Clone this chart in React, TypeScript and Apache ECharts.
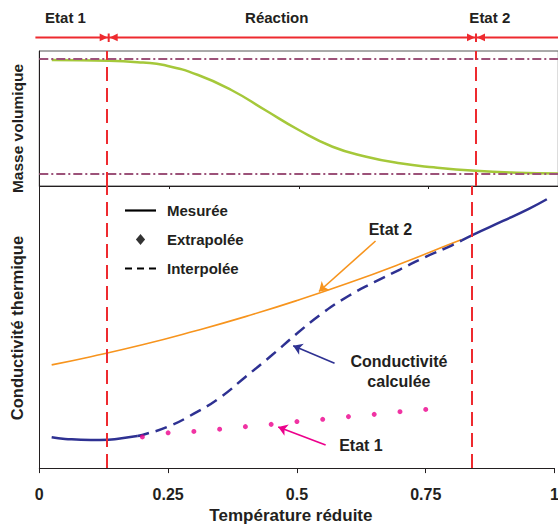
import React, { useEffect, useRef } from "react";
import * as echarts from "echarts";

// ---------- data (reduced temperature t, values in relative units 0–100) ----------
const xTicks = [0, 0.25, 0.5, 0.75, 1];
const phaseBounds = [0.1337, 0.8414];
const phaseLabels = ["Etat 1", "Réaction", "Etat 2"];
const phaseLabelT = [0.0505, 0.4575, 0.868];

// Masse volumique (upper panel)
const densityT = [0.024, 0.134, 0.2, 0.24, 0.306, 0.37, 0.435, 0.5, 0.565, 0.63, 0.695, 0.76, 0.84, 0.92, 1.0];
const densityV = [93.3, 92.8, 91.4, 89.6, 82.2, 71.1, 56.3, 41.5, 29.1, 21.7, 16.8, 13.85, 11.3, 9.85, 9.3];
const densityLevels = [94.1, 9.1];

// Conductivité calculée: measured (low T), interpolated, measured (high T)
const measuredLowT = [0.024, 0.05, 0.1, 0.134, 0.15, 0.19];
const measuredLowV = [10.9, 10.35, 9.95, 10.07, 10.35, 11.4];
const interpolatedT = [0.19, 0.2, 0.25, 0.3, 0.35, 0.4, 0.45, 0.5, 0.55, 0.6, 0.65, 0.7, 0.75, 0.8, 0.82];
const interpolatedV = [11.4, 11.75, 14.7, 19.3, 24.9, 32.3, 39.8, 47.7, 55.0, 61.0, 65.9, 70.4, 74.9, 78.9, 80.7];
const measuredHighT = [0.82, 0.8414, 0.9, 0.95, 0.985];
const measuredHighV = [80.7, 82.7, 87.6, 91.9, 95.3];

// Etat 2 conductivity (orange)
const etat2T = [0.024, 0.1, 0.2, 0.3, 0.4, 0.5, 0.6, 0.7, 0.8, 0.82];
const etat2V = [36.6, 39.5, 43.7, 48.5, 53.7, 59.4, 65.6, 72.35, 79.6, 81.05];

// Etat 1 extrapolated (magenta dots)
const etat1T = [0.2, 0.25, 0.3, 0.35, 0.4, 0.45, 0.5, 0.55, 0.6, 0.65, 0.7, 0.75];
const etat1V = [11.05, 12.5, 13.0, 13.8, 14.7, 15.5, 16.5, 17.3, 18.25, 19.05, 20.0, 20.8];

// annotations [t, v]
const noteEtat2 = { text: "Etat 2", at: [0.6815, 84.7] };
const noteCond = { text: "Conductivité\ncalculée", at: [0.698, 34.4] };
const noteEtat1 = { text: "Etat 1", at: [0.6243, 8.07] };
const arrowEtat2 = [[0.6526, 80.5], [0.5428, 62.6]];
const arrowCond = [[0.573, 37.2], [0.4927, 43.4]];
const arrowEtat1 = [[0.5557, 8.18], [0.4637, 14.6]];

const FONT = "'Liberation Sans', Arial, Helvetica, sans-serif";
const TEXT = "#231F20";
const RED = "#EE2A2F";
const BLUE = "#2E3192";
const ORANGE = "#F7941D";
const PINK = "#EC008C";
const GREEN = "#A5C83A";
const MAUVE = "#9C5279";

const zip = (a: number[], b: number[]) => a.map((t, i) => [t, b[i]]);

const arrowLine = (pts: number[][], color: string) => ({
  silent: true,
  symbol: ["none", "arrow"],
  symbolSize: 9,
  label: { show: false },
  lineStyle: { color, width: 1.6, type: "solid" },
  data: [[{ coord: pts[0] }, { coord: pts[1] }]],
});

export default function App() {
  const ref = useRef<HTMLDivElement>(null);

  useEffect(() => {
    document.body.style.margin = "0";
    document.body.style.overflow = "hidden";
    const chart = echarts.init(ref.current!, undefined, { renderer: "svg" });

    const axisColor = "#231F20";
    const option: any = {
      animation: false,
      textStyle: { fontFamily: FONT },
      grid: [
        { left: 39.3, top: 51, width: 519, height: 135, show: true, borderColor: "#555", borderWidth: 1 },
        { left: 39.3, top: 186, width: 519, height: 285 },
      ],
      xAxis: [
        {
          gridIndex: 0, type: "value", min: 0, max: 1, interval: 0.25,
          axisLabel: { show: false },
          axisTick: { show: true, length: 3, lineStyle: { color: axisColor } },
          axisLine: { show: true, lineStyle: { color: axisColor, width: 1 } },
          splitLine: { show: false },
        },
        {
          gridIndex: 1, type: "value", min: 0, max: 1, interval: 0.25,
          axisLabel: {
            fontSize: 16, fontWeight: "bold", color: TEXT, margin: 18, fontFamily: FONT,
            formatter: (v: number) => { const t = xTicks.find((x) => Math.abs(x - v) < 1e-9); return t === undefined ? "" : String(t); },
          },
          axisTick: { show: true, length: 5, lineStyle: { color: axisColor } },
          axisLine: { show: true, lineStyle: { color: axisColor, width: 1 } },
          splitLine: { show: false },
          name: "Température réduite", nameLocation: "middle", nameGap: 36,
          nameTextStyle: { fontSize: 17, fontWeight: "bold", color: TEXT, fontFamily: FONT, padding: [0, 12, 0, 0] },
        },
      ],
      yAxis: [
        {
          gridIndex: 0, type: "value", min: 0, max: 100,
          axisLabel: { show: false }, axisTick: { show: false }, splitLine: { show: false },
          axisLine: { show: true, lineStyle: { color: axisColor, width: 1 } },
          name: "Masse volumique", nameLocation: "middle", nameGap: 14, nameRotate: 90,
          nameTextStyle: { fontSize: 15.5, fontWeight: "bold", color: TEXT, fontFamily: FONT, padding: [0, 20, 0, 0] },
        },
        {
          gridIndex: 1, type: "value", min: 0, max: 100,
          axisLabel: { show: false }, axisTick: { show: false }, splitLine: { show: false },
          axisLine: { show: true, lineStyle: { color: axisColor, width: 1 } },
          name: "Conductivité thermique", nameLocation: "middle", nameGap: 14, nameRotate: 90,
          nameTextStyle: { fontSize: 16.5, fontWeight: "bold", color: TEXT, fontFamily: FONT, padding: [0, 2, 0, 0] },
        },
      ],
      legend: {
        orient: "vertical", left: 120, top: 198, itemWidth: 31, itemHeight: 11, itemGap: 14,
        selectedMode: false,
        data: [
          { name: "Mesurée", icon: "path://M0,0H31V2.2H0Z", itemStyle: { color: "#000" } },
          { name: "Extrapolée", icon: "path://M5,0L10,6L5,12L0,6Z", itemStyle: { color: "#000" } },
          { name: "Interpolée", icon: "path://M0,0H7V2.2H0Z M12,0H19V2.2H12Z M24,0H31V2.2H24Z", itemStyle: { color: "#000" } },
        ],
        textStyle: { fontSize: 15, fontWeight: "bold", color: TEXT, fontFamily: FONT, padding: [0, 0, 0, 6] },
      },
      series: [
        {
          name: "Masse volumique", type: "line", xAxisIndex: 0, yAxisIndex: 0,
          data: zip(densityT, densityV), smooth: true, symbol: "none", z: 3,
          lineStyle: { color: GREEN, width: 2.5 },
          markLine: {
            silent: true, symbol: "none", label: { show: false },
            lineStyle: { color: MAUVE, width: 2, type: [9, 3, 2, 3] },
            data: densityLevels.map((v) => ({ yAxis: v })),
          },
        },
        {
          name: "bornes-haut", type: "line", xAxisIndex: 0, yAxisIndex: 0,
          data: zip(densityT, densityV), symbol: "none", lineStyle: { opacity: 0 }, z: 4,
          markLine: {
            silent: true, symbol: "none", label: { show: false },
            lineStyle: { color: RED, width: 2, type: [14, 7] },
            data: phaseBounds.map((t) => ({ xAxis: t })),
          },
        },
        {
          name: "Etat 2", type: "line", xAxisIndex: 1, yAxisIndex: 1,
          data: zip(etat2T, etat2V), smooth: true, symbol: "none", z: 2,
          lineStyle: { color: ORANGE, width: 1.6 },
          markLine: arrowLine(arrowEtat2, ORANGE),
        },
        {
          name: "Interpolée (calc.)", type: "line", xAxisIndex: 1, yAxisIndex: 1,
          data: zip(interpolatedT, interpolatedV), smooth: 0.5, symbol: "none", z: 3,
          lineStyle: { color: BLUE, width: 2.5, type: [12, 7] },
          markLine: arrowLine(arrowCond, BLUE),
        },
        {
          name: "Mesurée basse", type: "line", xAxisIndex: 1, yAxisIndex: 1,
          data: zip(measuredLowT, measuredLowV), smooth: true, symbol: "none", z: 3,
          lineStyle: { color: BLUE, width: 2.5 },
        },
        {
          name: "Mesurée haute", type: "line", xAxisIndex: 1, yAxisIndex: 1,
          data: zip(measuredHighT, measuredHighV), smooth: true, symbol: "none", z: 3,
          lineStyle: { color: BLUE, width: 2.5 },
        },
        {
          name: "Etat 1", type: "scatter", xAxisIndex: 1, yAxisIndex: 1,
          data: zip(etat1T, etat1V), symbol: "circle", symbolSize: 5, z: 3,
          itemStyle: { color: PINK },
          markLine: arrowLine(arrowEtat1, PINK),
        },
        {
          name: "bornes-bas", type: "line", xAxisIndex: 1, yAxisIndex: 1,
          data: zip(etat1T, etat1V), symbol: "none", lineStyle: { opacity: 0 }, z: 5,
          markLine: {
            silent: true, symbol: "none", label: { show: false },
            lineStyle: { color: RED, width: 2, type: [14, 7] },
            data: phaseBounds.map((t) => ({ xAxis: t })),
          },
        },
        // legend-only series
        { name: "Mesurée", type: "line", xAxisIndex: 1, yAxisIndex: 1, data: [], symbol: "none", lineStyle: { color: "#000", width: 2 }, itemStyle: { color: "#000" } },
        { name: "Extrapolée", type: "scatter", xAxisIndex: 1, yAxisIndex: 1, data: [], symbol: "diamond", itemStyle: { color: "#000" } },
        { name: "Interpolée", type: "line", xAxisIndex: 1, yAxisIndex: 1, data: [], symbol: "none", lineStyle: { color: "#000", width: 2, type: [7, 5] }, itemStyle: { color: "#000" } },
      ],
    };
    chart.setOption(option);

    // ---- graphics positioned through the chart's own scales ----
    const x0 = (chart.convertToPixel({ gridIndex: 0 }, [0, 50]) as number[])[0];
    const x1 = (chart.convertToPixel({ gridIndex: 0 }, [1, 50]) as number[])[0];
    const xPix = (t: number) => x0 + t * (x1 - x0);
    const bx = phaseBounds.map(xPix);
    const barY = 37.4;
    const barStart = 35.4;
    const barEnd = 558;
    const lineStyle = { stroke: RED, lineWidth: 2 };
    const g: any[] = [];
    const segs = [[barStart, bx[0]], [bx[0], bx[1]], [bx[1], barEnd]];
    segs.forEach(([a, b]) => g.push({ type: "line", shape: { x1: a, y1: barY, x2: b, y2: barY }, style: lineStyle, silent: true }));
    bx.forEach((b) => {
      g.push({ type: "line", shape: { x1: b, y1: 33.5, x2: b, y2: 42 }, style: lineStyle, silent: true });
      g.push({ type: "polygon", shape: { points: [[b - 1, barY], [b - 9, barY - 3.8], [b - 9, barY + 3.8]] }, style: { fill: RED }, silent: true });
      g.push({ type: "polygon", shape: { points: [[b + 1, barY], [b + 9, barY - 3.8], [b + 9, barY + 3.8]] }, style: { fill: RED }, silent: true });
    });
    phaseLabels.forEach((txt, i) => {
      g.push({
        type: "text", x: xPix(phaseLabelT[i]), y: 17.7, silent: true,
        style: { text: txt, fill: TEXT, font: `bold 15px ${FONT}`, textAlign: "center", textVerticalAlign: "middle" },
      });
    });
    [noteEtat2, noteCond, noteEtat1].forEach((n) => {
      const p = chart.convertToPixel({ gridIndex: 1 }, n.at) as number[];
      g.push({
        type: "text", x: p[0], y: p[1], silent: true,
        style: { text: n.text, fill: TEXT, font: `bold 16px ${FONT}`, textAlign: "center", textVerticalAlign: "middle", lineHeight: 20 },
      });
    });
    chart.setOption({ graphic: g });

    return () => chart.dispose();
  }, []);

  return (
    <div style={{ width: 558, height: 529, overflow: "hidden", position: "relative", background: "#fff" }}>
      <div ref={ref} style={{ width: 562, height: 529 }} />
    </div>
  );
}
